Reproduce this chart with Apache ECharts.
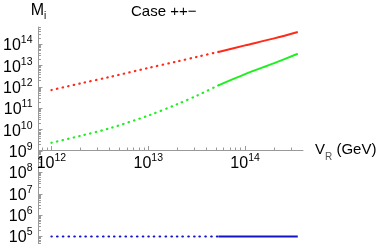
<!DOCTYPE html>
<html><head><meta charset="utf-8">
<script src="https://cdn.jsdelivr.net/npm/echarts@6/dist/echarts.min.js"></script>
<style>html,body{margin:0;padding:0;background:#fff}#c{width:387px;height:246px}</style>
</head><body><div id="c"></div>
<script>
// ---- data ----
const vRDotted = [1e12, 2e12, 4e12, 1e13, 2e13, 3.2e13, 5.3e13];
const vRSolid  = [5.3e13, 1e14, 2e14, 3.5e14];
const redDotted   = [7.2e11, 1.48e12, 2.95e12, 7.8e12, 1.58e13, 2.6e13, 4.4e13];
const redSolid    = [4.4e13, 8.9e13, 1.9e14, 3.8e14];
const greenDotted = [2.45e9, 5.2e9, 1.17e10, 4.6e10, 1.58e11, 4.0e11, 1.2e12];
const greenSolid  = [1.2e12, 4.0e12, 1.32e13, 3.6e13];
const blueDotted  = [1e5, 1e5, 1e5, 1e5, 1e5, 1e5, 1e5];
const blueSolid   = [1e5, 1e5, 1e5, 1e5];
const xTickValues = [1e12, 1e13, 1e14];
const yTickValues = [1e5, 1e6, 1e7, 1e8, 1e9, 1e10, 1e11, 1e12, 1e13, 1e14];
const titleText = 'Case ++\u2212';

// minor tick positions (2..9 x 10^k)
function minors(k0, k1) { const a = []; for (let k = k0; k <= k1; k++) for (let m = 2; m <= 9; m++) a.push(m * Math.pow(10, k)); return a; }
const xMin = Math.pow(10, 11.866), xMax = Math.pow(10, 14.598);
const yMin = Math.pow(10, 4.671), yMax = Math.pow(10, 14.81);
const xMinor = minors(11, 14).filter(v => v > xMin && v < xMax);
const yMinor = minors(4, 14).filter(v => v > yMin && v < yMax);

const FONT = 'Liberation Sans';
const rich = {
  b: { fontSize: 16, fontFamily: FONT, color: '#000', lineHeight: 19, verticalAlign: 'bottom' },
  s: { fontSize: 10.5, fontFamily: FONT, color: '#000', lineHeight: 11, verticalAlign: 'top' }
};
function pow10Label(v) {
  const l = Math.log10(v), r = Math.round(l);
  if (Math.abs(l - r) > 1e-6) return '';
  return '{b|10}{s|' + r + '}';
}
function zip(xs, ys) { return xs.map((x, i) => [x, ys[i]]); }

function ser(name, xs, ys, color, dash) {
  return { name, type: 'line', data: zip(xs, ys), showSymbol: false, symbol: 'none', smooth: 0.3,
    lineStyle: Object.assign({ color, width: 2 }, dash ? { type: [0.5, 5.2], cap: 'round', width: 2.2 } : {}), z: 3 };
}
const axisGray = '#999';
const chart = echarts.init(document.getElementById('c'), null, { renderer: 'canvas' });
chart.setOption({
  animation: false,
  backgroundColor: '#fff',
  title: { text: titleText, left: 126, top: -1, textStyle: { fontSize: 15, fontWeight: 'normal', fontFamily: FONT, color: '#000' } },
  grid: { left: 38, right: 84, top: 27, bottom: 0, containLabel: false },
  xAxis: [{
    type: 'log', min: xMin, max: xMax, position: 'bottom', offset: -93.5,
    axisLine: { lineStyle: { color: axisGray, width: 1 } },
    axisTick: { inside: true, length: 4, customValues: xTickValues, lineStyle: { color: axisGray } },
    axisLabel: { customValues: xTickValues, formatter: pow10Label, rich, margin: 3 },
    splitLine: { show: false }, minorTick: { show: false },
    name: '{v|V}{r|R}{v| (GeV)}', nameLocation: 'end', nameGap: 12,
    nameTextStyle: { rich: {
      v: { fontSize: 15, fontFamily: FONT, color: '#000', lineHeight: 18, verticalAlign: 'middle' },
      r: { fontSize: 10, fontFamily: FONT, color: '#555', lineHeight: 18, verticalAlign: 'bottom', padding: [0, 0, -3, 0] } } }
  }, {
    type: 'log', min: xMin, max: xMax, position: 'bottom', offset: -93.5,
    axisLine: { show: false }, axisLabel: { show: false }, splitLine: { show: false },
    axisTick: { inside: true, length: 2.5, customValues: xMinor, lineStyle: { color: axisGray } }
  }],
  yAxis: [{
    type: 'log', min: yMin, max: yMax, position: 'left',
    axisLine: { show: true, lineStyle: { color: axisGray, width: 1 } },
    axisTick: { show: true, inside: true, length: 4, customValues: yTickValues, lineStyle: { color: axisGray } },
    axisLabel: { customValues: yTickValues, formatter: pow10Label, rich, margin: 6 },
    splitLine: { show: false },
    name: '{m|M}{i|i}', nameLocation: 'end', nameGap: 6,
    nameTextStyle: { align: 'center', rich: {
      m: { fontSize: 16, fontFamily: FONT, color: '#000', lineHeight: 20, verticalAlign: 'middle' },
      i: { fontSize: 10, fontFamily: FONT, color: '#000', lineHeight: 20, verticalAlign: 'bottom' } } }
  }, {
    type: 'log', min: yMin, max: yMax, position: 'left',
    axisLine: { show: false }, axisLabel: { show: false }, splitLine: { show: false },
    axisTick: { show: true, inside: true, length: 2.5, customValues: yMinor, lineStyle: { color: axisGray } }
  }],
  series: [
    ser('red dotted', vRDotted, redDotted, '#ff2a1a', true),
    ser('red', vRSolid, redSolid, '#ff2a1a', false),
    ser('green dotted', vRDotted, greenDotted, '#1ef01e', true),
    ser('green', vRSolid, greenSolid, '#1ef01e', false),
    ser('blue dotted', vRDotted, blueDotted, '#1414c8', true),
    ser('blue', vRSolid, blueSolid, '#1414c8', false)
  ]
});
</script></body></html>
